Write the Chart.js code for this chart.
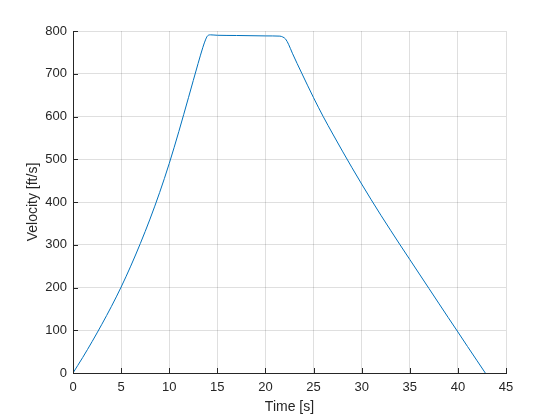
<!DOCTYPE html>
<html>
<head>
<meta charset="utf-8">
<script src="https://cdn.jsdelivr.net/npm/chart.js@4"></script>
<style>
  html, body { margin: 0; padding: 0; background: #fff; }
  canvas { display: block; }
</style>
</head>
<body>
<canvas id="velocityChart" width="560" height="420"></canvas>
<script>
// time samples [s] and velocity [ft/s]
const timeS = [0, 1, 2, 3, 4, 5, 6, 7, 8, 9, 10, 11, 12, 13, 13.5, 13.8, 14.0, 14.3, 15, 17, 20, 21.5,
    21.8, 22.1, 22.4, 22.8, 23.8, 25, 26, 27, 28, 29, 30, 31, 32, 33, 34, 35, 36, 37, 38, 39, 40, 41, 42, 42.85];
const velocityFt = [0, 36, 74, 114, 156, 201, 250, 303, 360, 422, 490, 565, 644, 724, 762, 781, 789, 791, 790, 789.5, 788.5, 788,
    786, 781, 769, 748, 700, 644, 600, 559, 519, 480, 442, 405, 369, 334, 299.5, 265.5, 231.5, 197.5, 163.5, 129.5, 96, 62, 28.5, 0];

const xTicks = [0, 5, 10, 15, 20, 25, 30, 35, 40, 45];
const yTicks = [0, 100, 200, 300, 400, 500, 600, 700, 800];

const axisColor = '#262626';
const gridColor = 'rgba(38,38,38,0.15)';
const fontFamily = '"Liberation Sans", Arial, Helvetica, sans-serif';

const points = timeS.map((t, i) => ({ x: t, y: velocityFt[i] }));

// MATLAB style tick marks pointing into the plot
const innerTicks = {
    id: 'innerTicks',
    afterDraw(chart) {
        const ctx = chart.ctx;
        const xs = chart.scales.x, ys = chart.scales.y;
        ctx.save();
        ctx.strokeStyle = axisColor;
        ctx.lineWidth = 1;
        ctx.beginPath();
        xTicks.forEach(v => {
            const px = Math.round(xs.getPixelForValue(v)) + 0.5;
            ctx.moveTo(px, xs.top);
            ctx.lineTo(px, xs.top - 5);
        });
        yTicks.forEach(v => {
            const py = Math.round(ys.getPixelForValue(v)) + 0.5;
            ctx.moveTo(ys.right, py);
            ctx.lineTo(ys.right + 5, py);
        });
        ctx.stroke();
        ctx.restore();
    }
};

new Chart(document.getElementById('velocityChart'), {
    type: 'line',
    data: {
        datasets: [{
            data: points,
            borderColor: '#0072BD',
            borderWidth: 1,
            pointRadius: 0,
            fill: false,
            cubicInterpolationMode: 'monotone'
        }]
    },
    options: {
        responsive: false,
        animation: false,
        layout: { padding: { top: 31, right: 54, left: 0, bottom: 0 } },
        plugins: { legend: { display: false }, tooltip: { enabled: false } },
        scales: {
            x: {
                type: 'linear',
                min: 0,
                max: 45,
                afterFit: s => { s.height = 47; },
                afterBuildTicks: s => { s.ticks = xTicks.map(v => ({ value: v })); },
                grid: { color: gridColor, drawTicks: false },
                border: { display: true, color: axisColor, width: 1 },
                ticks: { color: axisColor, padding: 7, maxRotation: 0, font: { family: fontFamily, size: 13 } },
                title: {
                    display: true,
                    text: 'Time [s]',
                    color: axisColor,
                    padding: { top: 0, bottom: 4 },
                    font: { family: fontFamily, size: 14 }
                }
            },
            y: {
                min: 0,
                max: 800,
                afterFit: s => { s.width = 73; },
                afterBuildTicks: s => { s.ticks = yTicks.map(v => ({ value: v })); },
                grid: { color: gridColor, drawTicks: false },
                border: { display: true, color: axisColor, width: 1 },
                ticks: { color: axisColor, padding: 6, font: { family: fontFamily, size: 13 } },
                title: {
                    display: true,
                    text: 'Velocity [ft/s]',
                    color: axisColor,
                    padding: { top: 25, bottom: 0 },
                    font: { family: fontFamily, size: 14 }
                }
            }
        }
    },
    plugins: [innerTicks]
});
</script>
</body>
</html>
